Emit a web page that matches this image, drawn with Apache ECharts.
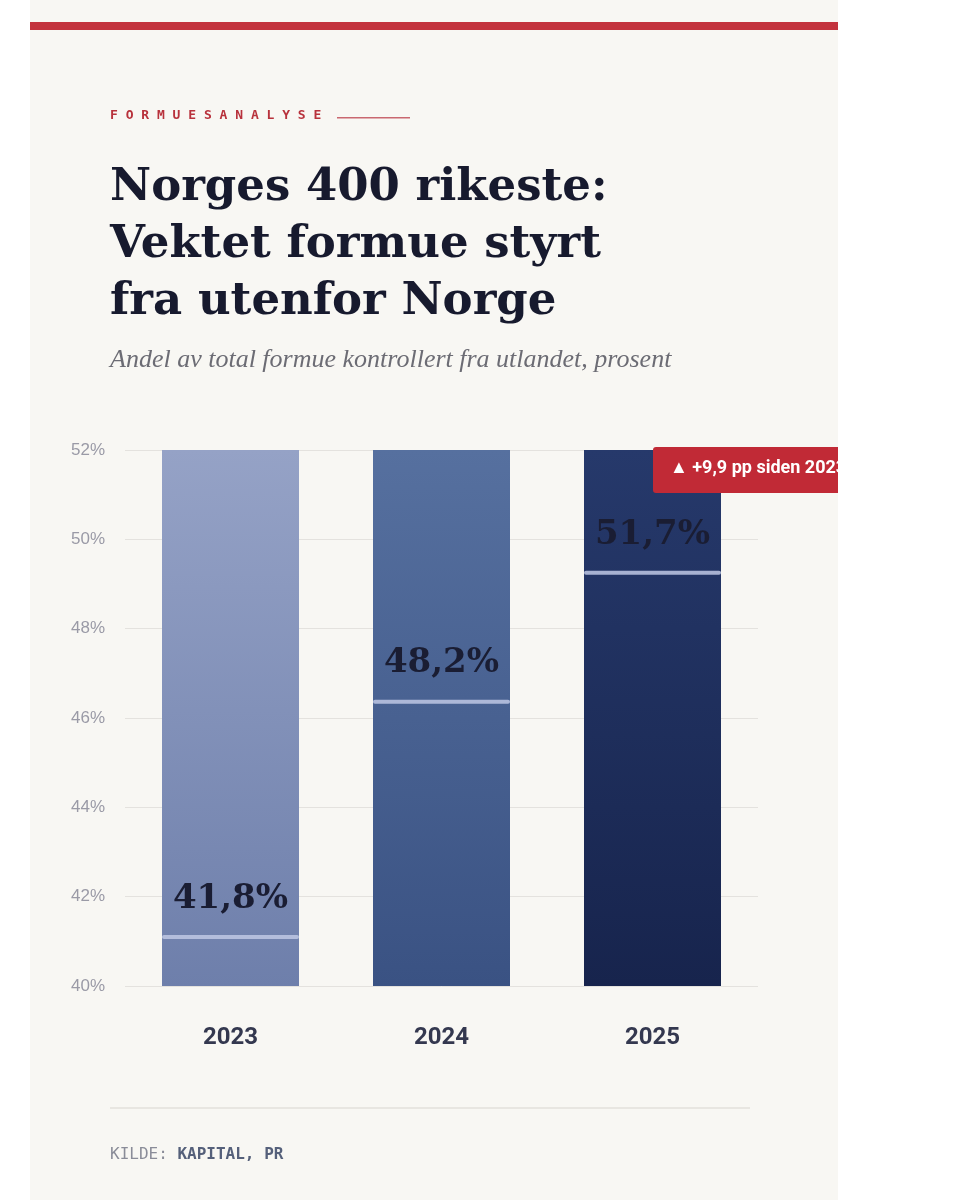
<!DOCTYPE html>
<html><head><meta charset="utf-8">
<script src="https://cdn.jsdelivr.net/npm/echarts@6/dist/echarts.min.js"></script>
<style>html,body{margin:0;padding:0;background:#fff}#c{width:964px;height:1200px}</style>
</head><body><div id="c"></div>
<script>
const categories = ['2023','2024','2025'];
const values = [41.8, 48.2, 51.7];
const labels = ['41,8%','48,2%','51,7%'];
const axisMin = 40, axisMax = 52;
const barScaleMin = 40.47, barScaleMax = 55.04;
const topColors = ['#95a2c6','#56709f','#26396b'];
const botColors = ['#6e7fab','#3a5283','#17244d'];

const chart = echarts.init(document.getElementById('c'));
function grad(i){return new echarts.graphic.LinearGradient(0,0,0,1,[{offset:0,color:topColors[i]},{offset:1,color:botColors[i]}]);}
chart.setOption({
  backgroundColor:'#ffffff',
  graphic:[
    {type:'rect',shape:{x:30,y:0,width:808,height:1200},style:{fill:'#f8f7f3'},z:-10},
    {type:'rect',shape:{x:30,y:22,width:808,height:8},style:{fill:'#c3333d'}},
    {type:'text',left:110,top:109,style:{text:'F O R M U E S A N A L Y S E',font:'bold 13px "DejaVu Sans Mono", monospace',fill:'#b8323c'}},
    {type:'rect',shape:{x:337,y:117,width:73,height:1.5},style:{fill:'#c96870'}},
    {type:'text',left:110,top:160,style:{text:'Norges 400 rikeste:\nVektet formue styrt\nfra utenfor Norge',font:'bold 45px "DejaVu Serif", serif',fill:'#171a2e',lineHeight:57}},
    {type:'text',left:110,top:347,style:{text:'Andel av total formue kontrollert fra utlandet, prosent',font:'italic 26px "Liberation Serif", serif',fill:'#6c6c74'}},
    {type:'rect',shape:{x:653,y:447,width:200,height:46,r:3},style:{fill:'#c12a36'},z:20},
    {type:'text',left:670,top:459,style:{text:'▲ +9,9 pp siden 2023',font:'bold 18px Roboto, sans-serif',fill:'#ffffff'},z:21},
    {type:'rect',shape:{x:838,y:400,width:126,height:120},style:{fill:'#ffffff'},z:30},
    {type:'rect',shape:{x:110,y:1107,width:640,height:2},style:{fill:'#e8e6e1'}},
    {type:'text',left:110,top:1147,style:{rich:{a:{font:'16px "DejaVu Sans Mono", monospace',fill:'#8a8c98'},b:{font:'bold 16px "DejaVu Sans Mono", monospace',fill:'#55607a'}},text:'{a|KILDE: }{b|KAPITAL, PR}'}}
  ],
  grid:{left:125,width:633,top:450,bottom:214},
  xAxis:{type:'category',data:categories,axisLine:{show:false},axisTick:{show:false},
    axisLabel:{margin:40,fontSize:24,fontWeight:'bold',color:'#34384f',fontFamily:'Roboto'}},
  yAxis:[{type:'value',min:axisMin,max:axisMax,interval:2,
    axisLabel:{formatter:'{value}%',color:'#9a9aa6',fontSize:17,fontFamily:'Liberation Sans',margin:20},
    splitLine:{lineStyle:{color:'#e4e2de'}},axisLine:{show:false},axisTick:{show:false}},
    {type:'value',min:barScaleMin,max:barScaleMax,show:false,splitLine:{show:false}}],
  series:[
    {type:'bar',yAxisIndex:1,barWidth:137,data:values.map((v,i)=>({value:barScaleMax,itemStyle:{color:grad(i)}}))},
    {type:'custom',yAxisIndex:1,data:values.map((v,i)=>[i,v]),renderItem:(params,api)=>{
      const p=api.coord([api.value(0),api.value(1)]);
      return {type:'group',children:[
        {type:'rect',shape:{x:p[0]-68.5,y:p[1]-2,width:137,height:4,r:2},style:{fill:'rgba(190,200,228,0.85)'}},
        {type:'text',x:p[0],y:p[1]-38,style:{text:labels[params.dataIndex],font:'bold 34px "DejaVu Serif", serif',fill:'#1a1d33',align:'center',verticalAlign:'middle'}}
      ]};
    },z:5}
  ]
});
</script></body></html>
